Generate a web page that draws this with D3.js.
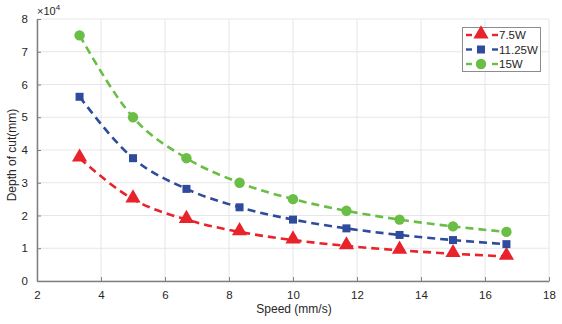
<!DOCTYPE html>
<html><head><meta charset="utf-8">
<script src="https://cdn.jsdelivr.net/npm/d3@7"></script>
<style>body{margin:0;background:#fff;}svg{display:block;font-family:"Liberation Sans",Arial,sans-serif;}</style>
</head><body><svg id="c" width="562" height="324"></svg>
<script>
const speeds = [3.33, 5, 6.67, 8.33, 10, 11.67, 13.33, 15, 16.67];
const seriesNames = ["7.5W", "11.25W", "15W"];
const depth75 = [37500, 25000, 18750, 15000, 12500, 10714, 9375, 8333, 7500];
const depth1125 = [56250, 37500, 28125, 22500, 18750, 16071, 14062, 12500, 11250];
const depth15 = [75000, 50000, 37500, 30000, 25000, 21429, 18750, 16667, 15000];
const xTicks = [2, 4, 6, 8, 10, 12, 14, 16, 18];
const yTicks = [0, 1, 2, 3, 4, 5, 6, 7, 8];

const colors = ["#e8232b", "#2f4b9c", "#6abe45"];
const symbols = [d3.symbolTriangle, d3.symbolSquare, d3.symbolCircle];
const symSizes = [100, 64, 85];
const data = [depth75, depth1125, depth15];

const svg = d3.select("#c");
const L = 37, R = 549, T = 19, B = 281;
const x = d3.scaleLinear().domain([2, 18]).range([L, R]);
const y = d3.scaleLinear().domain([0, 80000]).range([B, T]);

// grid
const g = svg.append("g");
g.selectAll(".vx").data(xTicks).join("line")
  .attr("x1", d => x(d)).attr("x2", d => x(d)).attr("y1", T).attr("y2", B)
  .attr("stroke", "#e6e6e6").attr("stroke-width", 1);
g.selectAll(".hy").data(yTicks).join("line")
  .attr("x1", L).attr("x2", R).attr("y1", d => y(d * 10000)).attr("y2", d => y(d * 10000))
  .attr("stroke", "#e6e6e6").attr("stroke-width", 1);

// axes
const xa = svg.append("g").attr("transform", `translate(0,${B})`)
  .call(d3.axisBottom(x).tickValues(xTicks).tickSize(-4).tickPadding(10).tickSizeOuter(0));
const ya = svg.append("g").attr("transform", `translate(${L},0)`)
  .call(d3.axisLeft(y).tickValues(yTicks.map(v => v * 10000)).tickFormat(d => d / 10000).tickSize(-4).tickPadding(9).tickSizeOuter(0));
[xa, ya].forEach(a => {
  a.select(".domain").attr("stroke", "#808080").attr("stroke-width", 1.5);
  a.selectAll(".tick line").attr("stroke", "#808080");
  a.selectAll("text").attr("fill", "#262626").attr("font-size", 11.5).attr("font-family", "Liberation Sans, Arial, sans-serif");
});

svg.append("text").attr("x", 37).attr("y", 15).attr("font-size", 11).attr("fill", "#262626")
  .text("\u00d710").append("tspan").attr("dy", -5).attr("font-size", 8).text("4");

svg.append("text").attr("x", 294).attr("y", 313).attr("text-anchor", "middle")
  .attr("font-size", 12).attr("fill", "#262626").text("Speed (mm/s)");
svg.append("text").attr("transform", `translate(16,${(T + B) / 2 + 5}) rotate(-90)`).attr("text-anchor", "middle")
  .attr("font-size", 12).attr("fill", "#262626").text("Depth of cut(mm)");

// series
const line = d3.line().x((d, i) => x(speeds[i])).y(d => y(d)).curve(d3.curveMonotoneX);
data.forEach((vals, k) => {
  svg.append("path").datum(vals).attr("d", line).attr("fill", "none")
    .attr("stroke", colors[k]).attr("stroke-width", 2.6).attr("stroke-dasharray", "8,5");
  svg.append("g").selectAll("path").data(vals).join("path")
    .attr("transform", (d, i) => `translate(${x(speeds[i])},${y(d) + (k === 0 ? -1 : 0)})`)
    .attr("d", d3.symbol().type(symbols[k]).size(symSizes[k])).attr("fill", colors[k]);
});

// legend
const lg = svg.append("g");
lg.append("rect").attr("x", 462.5).attr("y", 27.5).attr("width", 78).attr("height", 44)
  .attr("fill", "#fff").attr("stroke", "#8c8c8c").attr("stroke-width", 1);
seriesNames.forEach((n, k) => {
  const yy = 35 + k * 14.5;
  lg.append("line").attr("x1", 466).attr("x2", 472).attr("y1", yy).attr("y2", yy).attr("stroke", colors[k]).attr("stroke-width", 2.4);
  lg.append("line").attr("x1", 492).attr("x2", 498).attr("y1", yy).attr("y2", yy).attr("stroke", colors[k]).attr("stroke-width", 2.4);
  lg.append("path").attr("transform", `translate(481,${yy + (k === 0 ? -1 : 0)})`)
    .attr("d", d3.symbol().type(symbols[k]).size(symSizes[k])).attr("fill", colors[k]);
  lg.append("text").attr("x", 499).attr("y", yy + 4).attr("font-size", 11.5).attr("fill", "#262626").text(n);
});
</script></body></html>
